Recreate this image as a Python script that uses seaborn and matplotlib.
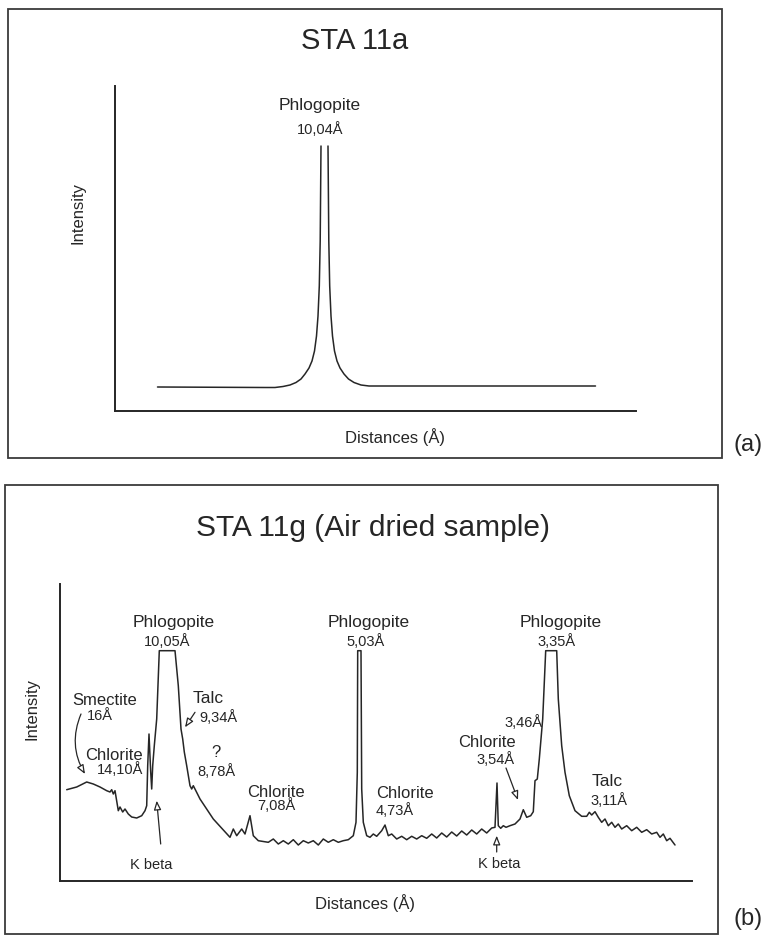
import matplotlib
matplotlib.use("Agg")
import matplotlib.pyplot as plt
import matplotlib.patches as mpatches
import seaborn as sns
import pandas as pd

# traced XRD patterns (arbitrary position / intensity units)
a_pos = [42.5, 150, 160, 168, 175, 181, 186, 190, 194, 197, 199.5, 201.5, 203, 204.3, 205.2, 206,
         213, 213.8, 214.7, 216, 217.5, 219.5, 222, 225, 229, 233.5, 239, 246, 254, 480.5]
a_int = [24, 23.5, 23.5, 24.5, 26, 28.5, 32, 37, 43, 50, 60, 75, 95, 125, 170, 265,
         265, 170, 125, 95, 75, 60, 50, 43, 37, 32, 28.5, 26, 25, 25]
a_branch = [0] * 16 + [1] * 14

b_pos = [6.7, 16.7, 26.7, 33.3, 40, 46.7, 50, 51.7, 53.3, 55, 56.7, 58.3, 60, 62.7, 65, 68.3,
         71.7, 76.7, 81.7, 85, 86.7, 87.7, 89, 90.7, 91.7, 92.7, 94.3, 96.7, 99.3, 115, 118.3,
         121, 122.7, 124.3, 126.7, 130, 131.7, 133.3, 135, 137, 140, 153.3, 170, 173.3, 176.7,
         181.7, 185, 190, 193.3, 198.3, 208.3, 213.3, 218.3, 223.3, 228.3, 233.3, 238.3, 243.3,
         248.3, 253.3, 258.3, 263.3, 268.3, 273.3, 278.3, 283.3, 288.3, 293.3, 296, 297.3, 297.7,
         301, 301.7, 303.3, 306.7, 310, 313.3, 316.7, 321.7, 325, 328.3, 331.7, 336.7, 341.7,
         346.7, 351.7, 356.7, 361.7, 366.7, 371.7, 376.7, 381.7, 386.7, 391.7, 396.7, 401.7,
         406.7, 411.7, 416.7, 421.7, 426.7, 431.7, 435, 437, 438.3, 440.7, 443.3, 446, 450, 455,
         460, 463.3, 466.7, 470.7, 473.3, 475, 477.3, 479.3, 482.7, 485.7, 496.7, 498.3, 501.7,
         505, 509.3, 515, 521.7, 526.7, 529.3, 531.7, 535, 538.3, 541.7, 545, 548.3, 551.7, 555,
         558.3, 561.7, 566.7, 571.7, 576.7, 581.7, 586.7, 591.7, 596.7, 600, 603.3, 606.7, 610,
         615]
b_int = [91.3, 94, 99, 97, 94, 90.3, 89, 91.3, 87, 90.3, 80.3, 70.3, 74, 69, 72, 67,
         64, 63, 65.3, 70.3, 75.3, 115.3, 147, 109, 92, 115.3, 135.3, 162, 230.3, 230.3, 195.3,
         152, 142, 129, 115.3, 95.3, 92, 95.3, 92, 88, 82, 62, 43.7, 52, 45.3,
         52, 47, 65.3, 45.3, 40.3, 38.7, 42, 37, 40.3, 37, 41.3, 36, 40.3,
         38, 40.3, 36, 42, 38.7, 41.3, 38.7, 40.3, 41.3, 45.3, 58.7, 108.7, 230.3,
         230.3, 92, 58.7, 45.3, 43.7, 47, 44.7, 50.3, 56, 45.3, 47, 42, 44.7,
         41.3, 44.7, 42, 45.3, 42.7, 47, 43, 48, 44, 49, 45, 50,
         46, 51, 47, 52, 48, 53, 53.7, 98, 55.3, 52.7, 55.3, 53.7, 55.3, 57,
         62, 71.3, 63.7, 65.3, 69.3, 100.3, 102, 122, 162, 230.3, 230.3, 182, 135.3,
         108.7, 85.3, 70.3, 64.7, 64.7, 68.7, 66, 69.3, 63.7, 58.7, 62, 55.3, 58.7, 53.7,
         57, 52, 55.3, 50.3, 53.7, 48.7, 51.3, 47, 48.7, 43.7, 47, 40.3, 42.7,
         36]

# peak labels: text, x, baseline y, font size
b_labels = [
    ("Smectite", 45, 177, 12), ("16Å", 39.5, 162, 10.5),
    ("Chlorite", 54, 122, 12), ("14,10Å", 60, 108, 10.5),
    ("K beta", 91, 13, 10.5),
    ("Phlogopite", 114, 255, 12.5), ("10,05Å", 107, 236, 10.5),
    ("Talc", 148, 179.3, 12.5), ("9,34Å", 158, 160.3, 10.5),
    ("?", 156, 125.3, 12), ("8,78Å", 156, 106, 10.5),
    ("Chlorite", 216, 85.3, 12), ("7,08Å", 216, 72, 10.5),
    ("Phlogopite", 308.7, 255, 12.5), ("5,03Å", 306, 236, 10.5),
    ("Chlorite", 345, 83.7, 12), ("4,73Å", 334.7, 67, 10.5),
    ("Phlogopite", 501, 255, 12.5), ("3,35Å", 496.7, 236, 10.5),
    ("3,46Å", 464, 155.3, 10.5),
    ("Chlorite", 427, 135.3, 12), ("3,54Å", 436, 118, 10.5),
    ("Talc", 547.5, 96, 12.5), ("3,11Å", 549, 77, 10.5),
    ("K beta", 439, 13.7, 10.5),
]
# arrows: tail (x, y), head (x, y), curvature
b_arrows = [
    ((21, 167), (25, 107), 0.25),
    ((135, 168.7), (125, 153.7), 0),
    ((100.7, 37), (96.7, 80.3), 0),
    ((446, 113), (458, 81), 0),
    ((436.7, 29), (436.7, 45.3), 0),
]

sns.set_theme(style="white")
plt.rcParams["font.family"] = ["Liberation Sans", "DejaVu Sans"]
ink = "#262626"

W, H = 766, 937
fig = plt.figure(figsize=(W / 100, H / 100), dpi=100)
fig.patch.set_facecolor("white")


def fx(px):
    return px / W


def fy(py):
    return 1 - py / H


# outer frames
for x0, y0, x1, y1 in [(8, 10, 722, 459), (5, 486, 718, 935)]:
    fig.add_artist(mpatches.Rectangle((fx(x0), fy(y1)), fx(x1 - x0), (y1 - y0) / H,
                                      transform=fig.transFigure, fill=False,
                                      edgecolor="#3a3a3a", lw=1.3))


def style_axes(ax, xmax, ymax):
    ax.set_xlim(0, xmax)
    ax.set_ylim(0, ymax)
    for s in ["top", "right"]:
        ax.spines[s].set_visible(False)
    for s in ["left", "bottom"]:
        ax.spines[s].set_color(ink)
        ax.spines[s].set_linewidth(1.4)
    ax.set_xticks([])
    ax.set_yticks([])
    ax.set_xlabel("")
    ax.set_ylabel("")
    ax.set_facecolor("none")


# panel (a)
ax1 = fig.add_axes([fx(115), fy(412), fx(521), 325 / H])
df_a = pd.DataFrame({"pos": a_pos, "intensity": a_int, "branch": a_branch})
sns.lineplot(data=df_a, x="pos", y="intensity", units="branch", estimator=None,
             sort=False, color=ink, lw=1.1, ax=ax1)
style_axes(ax1, 521, 325)
ax1.text(205, 302, "Phlogopite", ha="center", va="baseline", fontsize=12.5, color=ink)
ax1.text(205, 278, "10,04Å", ha="center", va="baseline", fontsize=10.5, color=ink)

fig.text(fx(355), fy(49), "STA 11a", ha="center", va="baseline", fontsize=21, color=ink)
fig.text(fx(78), fy(213), "Intensity", ha="center", va="center", rotation=90,
         fontsize=12, color=ink)
fig.text(fx(395), fy(443), "Distances (Å)", ha="center", va="baseline", fontsize=12,
         color=ink)
fig.text(fx(748), fy(445), "(a)", ha="center", va="center", fontsize=17, color=ink)

# panel (b)
ax2 = fig.add_axes([fx(60), fy(882), fx(632), 297 / H])
df_b = pd.DataFrame({"pos": b_pos, "intensity": b_int})
sns.lineplot(data=df_b, x="pos", y="intensity", estimator=None, sort=False,
             color=ink, lw=1.1, ax=ax2)
style_axes(ax2, 632, 297)
for txt, x, y, fs in b_labels:
    ax2.text(x, y, txt, ha="center", va="baseline", fontsize=fs, color=ink)
for tail, head, rad in b_arrows:
    ax2.annotate("", xy=head, xytext=tail,
                 arrowprops=dict(arrowstyle="-|>,head_length=0.45,head_width=0.18",
                                 color=ink, fc="white", lw=0.9,
                                 connectionstyle=f"arc3,rad={rad}",
                                 shrinkA=0, shrinkB=0))

fig.text(fx(373), fy(536), "STA 11g (Air dried sample)", ha="center", va="baseline",
         fontsize=21.5, color=ink)
fig.text(fx(32), fy(709), "Intensity", ha="center", va="center", rotation=90,
         fontsize=12, color=ink)
fig.text(fx(365), fy(909), "Distances (Å)", ha="center", va="baseline", fontsize=12,
         color=ink)
fig.text(fx(748), fy(919), "(b)", ha="center", va="center", fontsize=17, color=ink)

fig.savefig("out.png", dpi=100, facecolor="white")
